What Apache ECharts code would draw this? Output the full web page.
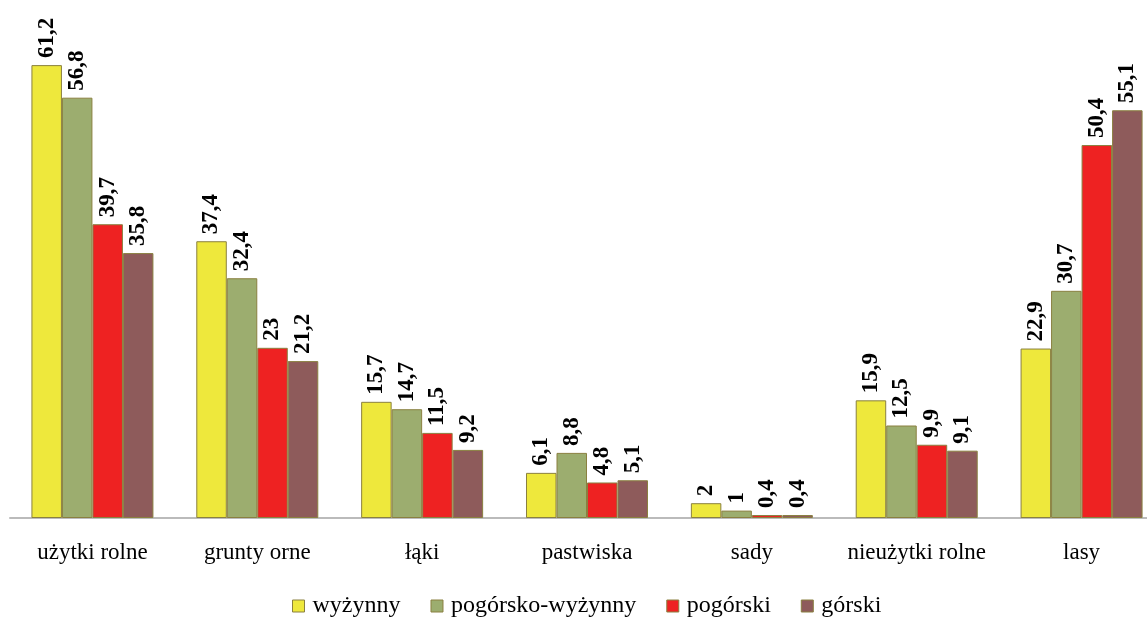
<!DOCTYPE html>
<html>
<head>
<meta charset="utf-8">
<script src="https://cdn.jsdelivr.net/npm/echarts@6/dist/echarts.min.js"></script>
<style>
html, body { margin: 0; padding: 0; background: #fff; overflow: hidden; }
#chart { width: 1164px; height: 618px; }
</style>
</head>
<body>
<div id="chart"></div>
<script>
var categories = ['użytki rolne', 'grunty orne', 'łąki', 'pastwiska', 'sady', 'nieużytki rolne', 'lasy'];
var seriesNames = ['wyżynny', 'pogórsko-wyżynny', 'pogórski', 'górski'];
var wyzynny = [61.2, 37.4, 15.7, 6.1, 2, 15.9, 22.9];
var pogorskoWyzynny = [56.8, 32.4, 14.7, 8.8, 1, 12.5, 30.7];
var pogorski = [39.7, 23, 11.5, 4.8, 0.4, 9.9, 50.4];
var gorski = [35.8, 21.2, 9.2, 5.1, 0.4, 9.1, 55.1];
var colors = ['#EEE83C', '#9CAD6F', '#EE2222', '#8E5B5B'];

// wykres jest szerszy niz okno - ostatnia grupa konczy sie przy prawej krawedzi
var chart = echarts.init(document.getElementById('chart'));
var fontFam = '"Liberation Serif", "Times New Roman", serif';

function makeSeries(name, data, idx) {
	return {
		name: name,
		type: 'bar',
		data: data,
		barGap: '0%',
		barCategoryGap: '26%',
		itemStyle: {
			color: colors[idx],
			borderColor: '#8A8040',
			borderWidth: 1
		},
		label: {
			show: true,
			position: 'top',
			rotate: 90,
			align: 'left',
			verticalAlign: 'middle',
			distance: 7,
			fontFamily: fontFam,
			fontWeight: 'bold',
			fontSize: 23,
			color: '#000',
			formatter: function (p) { return String(p.value).replace('.', ','); }
		}
	};
}

var option = {
	animation: false,
	grid: { left: 10, right: 0, top: 37, bottom: 100, containLabel: false },
	legend: {
		top: 594,
		left: 292,
		padding: 0,
		itemWidth: 12,
		itemHeight: 12,
		itemGap: 30,
		textStyle: { fontFamily: fontFam, fontSize: 24, color: '#000', padding: [0, 0, 0, 3] },
		data: seriesNames.map(function (n, i) {
			return { name: n, icon: 'rect', itemStyle: { borderColor: '#8A8040', borderWidth: 1 } };
		})
	},
	xAxis: {
		type: 'category',
		data: categories,
		axisLine: { lineStyle: { color: '#BBBBBB', width: 2 } },
		axisTick: { show: false },
		axisLabel: { interval: 0, fontFamily: fontFam, fontSize: 23, color: '#000', margin: 23 }
	},
	yAxis: {
		type: 'value',
		min: 0,
		max: 65,
		show: false,
		splitLine: { show: false }
	},
	series: [
		makeSeries(seriesNames[0], wyzynny, 0),
		makeSeries(seriesNames[1], pogorskoWyzynny, 1),
		makeSeries(seriesNames[2], pogorski, 2),
		makeSeries(seriesNames[3], gorski, 3)
	]
};
chart.setOption(option);
window.onresize = function () { chart.resize(); };
</script>
</body>
</html>
